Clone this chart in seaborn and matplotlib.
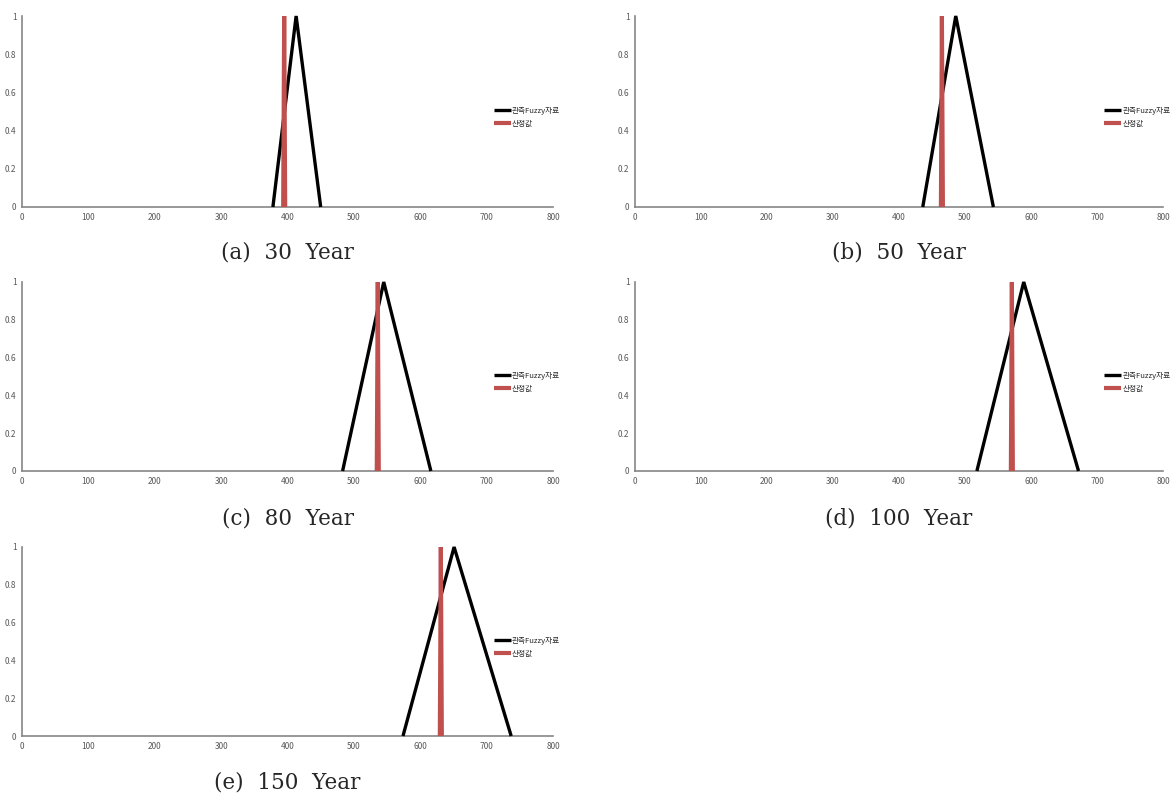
import pandas as pd
import matplotlib.pyplot as plt
import seaborn as sns

# fuzzy membership data
captions = ['(a)  30  Year', '(b)  50  Year', '(c)  80  Year', '(d)  100  Year', '(e)  150  Year']
obs_left = [378, 436, 483, 518, 574]
obs_peak = [413, 486, 545, 589, 651]
obs_right = [450, 543, 616, 672, 737]
est_value = [395, 465, 536, 571, 631]
x_ticks = [0, 100, 200, 300, 400, 500, 600, 700, 800]
y_ticks = [0, 0.2, 0.4, 0.6, 0.8, 1]
y_tick_labels = ['0', '0.2', '0.4', '0.6', '0.8', '1']

label_obs = '관측Fuzzy자료'
label_est = '산정값'

sns.set_style('white')
plt.rcParams['font.family'] = ['Noto Sans CJK KR', 'DejaVu Sans']

fig_w, fig_h = 1173, 795
dpi = 100
fig = plt.figure(figsize=(fig_w / dpi, fig_h / dpi), dpi=dpi)

# pixel boxes (left, top, right, bottom) for each panel
boxes = [(22, 16, 553, 207), (635, 16, 1163, 207),
         (22, 282, 553, 471), (635, 282, 1163, 471),
         (22, 547, 553, 736)]
caption_y = [252, 252, 518, 518, 783]

for i in range(len(captions)):
    l, t, r, b = boxes[i]
    ax = fig.add_axes([l / fig_w, 1 - b / fig_h, (r - l) / fig_w, (b - t) / fig_h])

    df_obs = pd.DataFrame({'x': [obs_left[i], obs_peak[i], obs_right[i]], 'y': [0, 1, 0]})
    df_est = pd.DataFrame({'x': [est_value[i] - 1.5, est_value[i], est_value[i] + 1.5], 'y': [0, 1, 0]})

    sns.lineplot(data=df_obs, x='x', y='y', sort=False, color='black', linewidth=2.4,
                 label=label_obs, ax=ax, clip_on=False, zorder=3,
                 solid_capstyle='butt', solid_joinstyle='miter')
    sns.lineplot(data=df_est, x='x', y='y', sort=False, color='#C0504D', linewidth=3,
                 label=label_est, ax=ax, clip_on=False, zorder=4,
                 solid_capstyle='butt', solid_joinstyle='bevel')

    ax.set_xlim(0, 800)
    ax.set_ylim(0, 1)
    ax.set_xticks(x_ticks)
    ax.set_xticklabels([str(v) for v in x_ticks])
    ax.set_yticks(y_ticks)
    ax.set_yticklabels(y_tick_labels)
    ax.tick_params(labelsize=6, colors='#595959', length=0, pad=4)
    ax.set_xlabel('')
    ax.set_ylabel('')
    for s in ['top', 'right']:
        ax.spines[s].set_visible(False)
    for s in ['left', 'bottom']:
        ax.spines[s].set_color('#868686')
        ax.spines[s].set_linewidth(1.2)

    ax.legend(loc='center left', bbox_to_anchor=(0.888, 0.47), frameon=False,
              prop={'family': ['Noto Sans CJK KR'], 'size': 5.5},
              handlelength=2.3, handletextpad=0.1, labelspacing=0.6,
              borderaxespad=0, borderpad=0)

    fig.text(((l + r) / 2) / fig_w, 1 - caption_y[i] / fig_h, captions[i],
             ha='center', va='center', fontsize=15.5, family=['DejaVu Serif'])

fig.savefig('out.png', dpi=dpi)
